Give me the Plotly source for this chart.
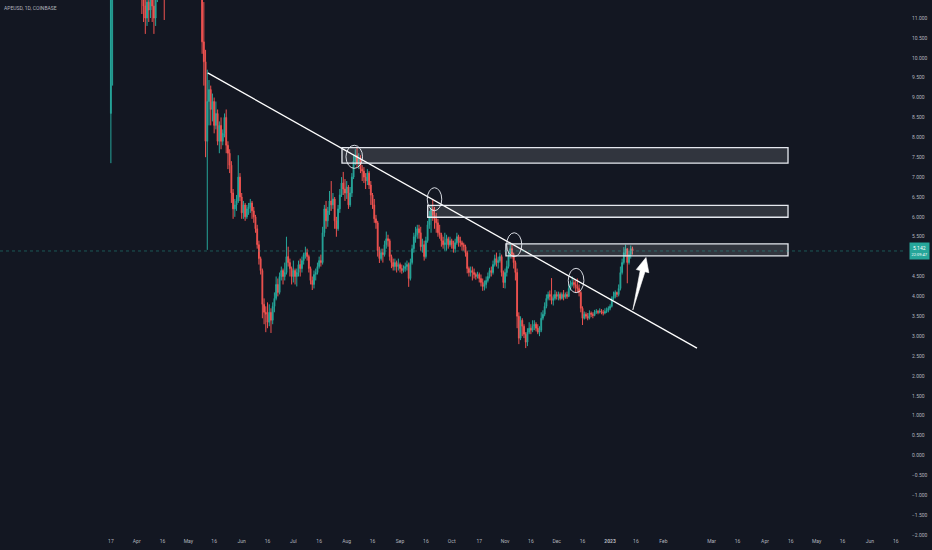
import plotly.graph_objects as go
import pandas as pd

# ---------------- data (daily APEUSD, Coinbase) ----------------
START_DATE = "2022-03-17"
FIRST_OPEN = 8.6

close_mar = [11.8, 13.9, 14.2, 12.9, 12.4, 13.1, 12.6, 12.2, 13.8, 13.3, 14.4, 14.0, 13.6, 13.0, 12.3]
high_mar = [15.0, 14.8, 15.2, 14.4, 13.1, 13.6, 13.4, 12.9, 14.2, 14.0, 14.8, 14.9, 14.3, 13.9, 13.3]
low_mar = [7.35, 9.3, 13.3, 12.2, 11.6, 12.0, 12.1, 11.7, 12.0, 12.8, 13.1, 13.5, 13.1, 12.5, 12.0]

close_apr = [12.6, 12.9, 12.4, 11.6, 11.3, 11.0, 11.4, 11.2, 11.5, 11.3, 11.0, 11.6, 12.0, 11.8, 12.2,
             12.5, 12.0, 13.5, 14.8, 16.5, 17.0, 18.0, 19.5, 20.5, 21.0, 19.5, 21.0, 22.5, 19.0, 17.5]
high_apr = [13.0, 13.3, 13.1, 12.6, 11.9, 11.6, 11.8, 11.7, 11.8, 11.9, 11.6, 11.9, 12.3, 12.3, 12.5,
            12.8, 12.6, 13.8, 15.2, 17.0, 17.8, 18.7, 20.0, 21.5, 22.0, 21.5, 22.0, 26.7, 22.5, 19.5]
low_apr = [12.1, 12.3, 12.0, 11.1, 10.9, 10.6, 10.8, 10.9, 11.0, 10.9, 10.6, 10.8, 11.4, 11.5, 11.6,
           11.9, 10.95, 11.8, 13.2, 14.5, 16.0, 16.5, 17.8, 19.0, 19.5, 18.6, 19.2, 20.5, 18.5, 17.0]

close_may = [17.0, 16.2, 15.4, 16.6, 14.6, 14.3, 13.7, 13.0, 10.4, 9.9, 7.9, 8.9, 9.2, 8.7, 8.9, 8.3,
             8.6, 7.9, 8.3, 7.9, 8.1, 8.5, 7.8, 7.6, 7.3, 6.6, 6.2, 6.3, 6.4, 7.0, 6.5]
high_may = [18.3, 17.4, 16.5, 17.0, 16.8, 14.9, 14.5, 13.9, 13.3, 11.4, 10.2, 9.7, 9.44, 9.3, 9.1, 9.0,
            8.9, 8.7, 8.4, 8.5, 8.2, 8.6, 8.7, 7.9, 7.7, 7.4, 6.7, 6.45, 6.55, 7.55, 7.1]
low_may = [16.3, 15.8, 15.0, 15.0, 14.2, 13.8, 13.4, 12.7, 10.1, 9.3, 7.5, 5.17, 8.3, 8.3, 8.4, 8.1,
           8.2, 7.8, 7.6, 7.7, 7.8, 8.0, 7.6, 7.2, 7.1, 6.35, 5.95, 6.0, 6.15, 6.35, 6.4]

close_jun = [6.1, 6.3, 6.0, 6.2, 6.25, 6.35, 6.15, 6.0, 5.7, 5.3, 4.95, 4.65, 3.8, 3.6, 3.55,
             3.35, 3.6, 3.4, 3.75, 3.95, 4.3, 4.1, 4.5, 4.65, 4.5, 4.6, 5.0, 4.85, 4.7, 4.5]
high_jun = [6.6, 6.4, 6.35, 6.3, 6.35, 6.45, 6.4, 6.25, 6.05, 5.8, 5.4, 5.0, 4.7, 3.95, 3.75,
            3.85, 3.8, 3.7, 3.85, 4.1, 4.5, 4.45, 4.6, 4.75, 4.7, 4.85, 5.5, 5.25, 4.95, 4.75]
low_jun = [5.95, 5.95, 5.9, 5.95, 6.05, 6.1, 5.95, 5.85, 5.6, 5.2, 4.8, 4.55, 3.45, 3.3, 3.1,
           3.2, 3.25, 3.08, 3.3, 3.6, 3.9, 4.0, 4.05, 4.4, 4.3, 4.4, 4.55, 4.75, 4.5, 4.3]

close_jul = [4.65, 4.5, 4.6, 4.8, 4.7, 4.9, 5.05, 5.1, 5.0, 4.7, 4.4, 4.3, 4.55, 4.6, 4.75, 4.9,
             4.85, 5.6, 6.2, 5.9, 6.15, 6.4, 6.3, 6.45, 5.9, 5.7, 6.2, 6.55, 6.85, 6.7, 6.6]
high_jul = [4.9, 4.7, 4.7, 4.9, 4.95, 5.0, 5.1, 5.25, 5.2, 5.05, 4.75, 4.5, 4.65, 4.7, 4.85, 5.0,
            5.05, 5.75, 6.3, 6.4, 6.25, 6.65, 6.9, 6.6, 6.5, 6.0, 6.3, 6.7, 7.0, 7.13, 6.95]
low_jul = [4.35, 4.3, 4.25, 4.5, 4.5, 4.6, 4.8, 4.95, 4.9, 4.6, 4.3, 4.16, 4.2, 4.4, 4.55, 4.7,
           4.75, 4.8, 5.5, 5.7, 5.75, 6.05, 6.15, 6.2, 5.7, 5.5, 5.65, 6.1, 6.5, 6.55, 6.4]

close_aug = [6.75, 6.3, 6.6, 7.0, 7.4, 7.55, 7.35, 7.45, 7.2, 7.15, 7.0, 6.9, 7.1, 6.8, 6.55, 6.3,
             5.95, 5.85, 5.15, 4.95, 5.1, 5.05, 5.3, 5.45, 5.4, 5.0, 4.85, 4.75, 4.85, 4.75, 4.8]
high_aug = [6.9, 6.8, 6.75, 7.1, 7.55, 7.7, 7.73, 7.6, 7.55, 7.3, 7.25, 7.1, 7.2, 7.15, 6.9, 6.6,
            6.45, 6.05, 5.9, 5.25, 5.2, 5.2, 5.4, 5.63, 5.55, 5.45, 5.05, 4.95, 4.95, 4.9, 4.95]
low_aug = [6.45, 6.2, 6.25, 6.5, 6.95, 7.3, 7.25, 7.2, 7.1, 6.9, 6.85, 6.7, 6.8, 6.7, 6.3, 6.2,
           5.85, 5.7, 5.0, 4.84, 4.9, 4.85, 5.0, 5.2, 5.25, 4.9, 4.71, 4.65, 4.65, 4.6, 4.65]

close_sep = [4.7, 4.65, 4.7, 4.75, 4.8, 4.45, 4.85, 5.2, 5.5, 5.55, 5.7, 5.6, 5.25, 5.3, 5.0,
             5.4, 5.8, 6.0, 6.2, 6.05, 5.95, 5.85, 5.6, 5.55, 5.4, 5.3, 5.35, 5.45, 5.3, 5.4]
high_sep = [4.85, 4.8, 4.78, 4.85, 4.9, 4.85, 4.95, 5.3, 5.6, 5.75, 5.8, 5.8, 5.75, 5.45, 5.4,
            5.5, 5.9, 6.15, 6.3, 6.45, 6.25, 6.1, 5.95, 5.8, 5.6, 5.5, 5.6, 5.55, 5.5, 5.5]
low_sep = [4.6, 4.57, 4.6, 4.62, 4.65, 4.24, 4.4, 4.8, 5.1, 5.35, 5.45, 5.45, 5.15, 5.1, 4.9,
           4.95, 5.35, 5.7, 5.6, 5.9, 5.7, 5.6, 5.5, 5.45, 5.25, 5.2, 5.15, 5.15, 5.2, 5.25]

close_oct = [5.3, 5.2, 5.35, 5.5, 5.4, 5.35, 5.3, 5.25, 5.1, 4.7, 4.6, 4.65, 4.6, 4.55, 4.5, 4.55,
             4.45, 4.35, 4.25, 4.3, 4.4, 4.5, 4.65, 4.6, 4.8, 4.95, 4.85, 4.9, 5.0, 4.6, 4.35]
high_oct = [5.45, 5.4, 5.45, 5.6, 5.55, 5.5, 5.4, 5.35, 5.3, 5.15, 4.75, 4.75, 4.75, 4.7, 4.6, 4.62,
            4.6, 4.55, 4.45, 4.4, 4.5, 4.6, 4.72, 4.75, 4.9, 5.05, 5.1, 5.0, 5.1, 5.05, 4.65]
low_oct = [5.2, 5.1, 5.1, 5.3, 5.25, 5.25, 5.15, 5.15, 5.0, 4.58, 4.5, 4.5, 4.4, 4.45, 4.42, 4.45,
           4.35, 4.25, 4.14, 4.15, 4.2, 4.35, 4.45, 4.5, 4.55, 4.75, 4.75, 4.7, 4.85, 4.5, 4.21]

close_nov = [4.6, 4.75, 5.0, 5.2, 5.05, 4.85, 4.6, 3.5, 2.95, 3.4, 3.25, 3.05, 2.85, 3.1, 3.2,
             3.15, 3.25, 3.3, 3.2, 3.1, 3.15, 3.45, 3.55, 3.75, 3.95, 4.05, 4.0, 3.9, 3.95, 4.05]
high_nov = [4.7, 4.9, 5.1, 5.32, 5.3, 5.1, 4.9, 4.7, 3.6, 3.5, 3.45, 3.3, 3.1, 3.2, 3.35,
            3.3, 3.4, 3.4, 3.35, 3.3, 3.25, 3.6, 3.65, 3.85, 4.05, 4.12, 4.15, 4.46, 4.05, 4.16]
low_nov = [4.2, 4.5, 4.7, 4.95, 4.95, 4.7, 4.4, 3.2, 2.8, 2.9, 3.0, 2.95, 2.70, 2.75, 3.05,
           3.05, 3.1, 3.15, 3.12, 3.05, 3.0, 3.1, 3.4, 3.5, 3.7, 3.9, 3.9, 3.8, 3.77, 3.9]

close_dec = [4.0, 4.05, 3.95, 4.05, 3.98, 4.05, 4.0, 4.2, 4.3, 4.35, 4.3, 4.25, 4.2, 4.1, 3.7, 3.45,
             3.55, 3.5, 3.45, 3.58, 3.55, 3.52, 3.6, 3.62, 3.6, 3.63, 3.6, 3.58, 3.62, 3.65, 3.7]
high_dec = [4.12, 4.12, 4.1, 4.1, 4.16, 4.1, 4.12, 4.3, 4.4, 4.5, 4.42, 4.4, 4.45, 4.3, 4.15, 3.75,
            3.62, 3.6, 3.58, 3.65, 3.62, 3.6, 3.66, 3.68, 3.66, 3.7, 3.68, 3.66, 3.7, 3.72, 3.75]
low_dec = [3.92, 3.9, 3.9, 3.92, 3.9, 3.94, 3.94, 3.98, 4.15, 4.25, 4.2, 4.1, 4.1, 4.0, 3.6, 3.28,
           3.42, 3.44, 3.4, 3.42, 3.48, 3.45, 3.5, 3.56, 3.55, 3.57, 3.55, 3.52, 3.55, 3.58, 3.6]

close_jan = [3.75, 3.95, 4.0, 4.1, 4.05, 4.2, 4.6, 4.85, 5.1, 5.2, 4.85, 5.05, 5.2, 5.142]
high_jan = [3.8, 4.0, 4.12, 4.15, 4.12, 4.3, 4.75, 4.95, 5.24, 5.3, 5.2, 5.15, 5.28, 5.25]
low_jan = [3.65, 3.72, 3.9, 3.95, 3.98, 4.0, 4.15, 4.55, 4.8, 5.0, 4.33, 4.8, 4.95, 5.05]

CLOSE = (close_mar + close_apr + close_may + close_jun + close_jul + close_aug +
         close_sep + close_oct + close_nov + close_dec + close_jan)
HIGH = (high_mar + high_apr + high_may + high_jun + high_jul + high_aug +
        high_sep + high_oct + high_nov + high_dec + high_jan)
LOW = (low_mar + low_apr + low_may + low_jun + low_jul + low_aug +
       low_sep + low_oct + low_nov + low_dec + low_jan)
OPEN = [FIRST_OPEN] + CLOSE[:-1]
DATES = pd.date_range(START_DATE, periods=len(CLOSE), freq="D")
LAST_PRICE = 5.142
LAST_LABEL = "5.142"
COUNTDOWN = "22:09:47"

# drawings (chart coordinates: date, price)
TREND_X = ["2022-05-12 06:00", "2023-02-20 12:00"]
TREND_Y = [9.62, 2.70]

ZONES = [  # x0, x1, y_low, y_high
    ("2022-07-29 06:00", "2023-04-14 09:00", 7.35, 7.74),
    ("2022-09-17 01:00", "2023-04-14 09:00", 5.99, 6.29),
    ("2022-11-01 12:00", "2023-04-14 09:00", 5.02, 5.32),
]
RINGS = [  # x0, x1, y0, y1
    ("2022-07-31 14:00", "2022-08-10 05:00", 7.22, 7.80),
    ("2022-09-16 19:00", "2022-09-25 05:00", 6.155, 6.733),
    ("2022-11-01 22:00", "2022-11-10 17:00", 5.00, 5.60),
    ("2022-12-07 17:00", "2022-12-16 19:00", 4.093, 4.706),
]
ARROW_X = ["2023-01-14 05:00", "2023-01-21 07:00", "2023-01-23 13:00", "2023-01-21 21:00",
           "2023-01-16 05:30", "2023-01-18 12:00", "2023-01-14 05:00"]
ARROW_Y = [3.658, 4.621, 4.596, 4.978, 4.676, 4.651, 3.658]

X_RANGE = ["2022-01-11 14:00", "2023-06-21 22:00"]
Y_RANGE = [-2.05, 11.4526]

X_TICKS = ["2022-03-17", "2022-04-01", "2022-04-16", "2022-05-01", "2022-05-16", "2022-06-01",
           "2022-06-16", "2022-07-01", "2022-07-16", "2022-08-01", "2022-08-16", "2022-09-01",
           "2022-09-16", "2022-10-01", "2022-10-17", "2022-11-01", "2022-11-16", "2022-12-01",
           "2022-12-16", "2023-01-01", "2023-01-16", "2023-02-01", "2023-03-01", "2023-03-16",
           "2023-04-01", "2023-04-16", "2023-05-01", "2023-05-16", "2023-06-01", "2023-06-16"]
X_LABELS = ["17", "Apr", "16", "May", "16", "Jun", "16", "Jul", "16", "Aug", "16", "Sep",
            "16", "Oct", "17", "Nov", "16", "Dec", "16", "<b>2023</b>", "16", "Feb", "Mar", "16",
            "Apr", "16", "May", "16", "Jun", "16"]
Y_TICKS = [11.0, 10.5, 10.0, 9.5, 9.0, 8.5, 8.0, 7.5, 7.0, 6.5, 6.0, 5.5, 4.5, 4.0, 3.5, 3.0,
           2.5, 2.0, 1.5, 1.0, 0.5, 0.0, -0.5, -1.0, -1.5, -2.0]

# ---------------- style ----------------
BG = "#131722"
UP = "#26a69a"
DOWN = "#ef5350"
TXT = "#b2b5be"
FONT = "Roboto"

fig = go.Figure()
fig.add_trace(go.Candlestick(
    x=DATES, open=OPEN, high=HIGH, low=LOW, close=CLOSE,
    increasing=dict(line=dict(color=UP, width=1), fillcolor=UP),
    decreasing=dict(line=dict(color=DOWN, width=1), fillcolor=DOWN),
    whiskerwidth=0, showlegend=False, hoverinfo="skip"))

fig.add_trace(go.Scatter(x=TREND_X, y=TREND_Y, mode="lines",
                         line=dict(color="#ffffff", width=1.3), showlegend=False, hoverinfo="skip"))

for x0, x1, y0, y1 in ZONES:
    fig.add_shape(type="rect", xref="x", yref="y", x0=x0, x1=x1, y0=y0, y1=y1,
                  fillcolor="rgba(255,255,255,0.13)", line=dict(color="rgba(240,243,250,0.95)", width=1.3))

for x0, x1, y0, y1 in RINGS:
    fig.add_shape(type="circle", xref="x", yref="y", x0=x0, x1=x1, y0=y0, y1=y1,
                  fillcolor="rgba(0,0,0,0)", line=dict(color="rgba(235,238,245,0.9)", width=1))

fig.add_trace(go.Scatter(x=ARROW_X, y=ARROW_Y, mode="lines", fill="toself",
                         fillcolor="#ffffff", line=dict(color="#ffffff", width=0.6),
                         showlegend=False, hoverinfo="skip"))

fig.add_shape(type="line", xref="paper", yref="y", x0=0, x1=1, y0=LAST_PRICE, y1=LAST_PRICE,
              line=dict(color="rgba(38,166,154,0.45)", width=1, dash="dot"))

fig.add_annotation(xref="paper", yref="y", x=1, y=LAST_PRICE, xanchor="left", yanchor="middle",
                   xshift=3, text=LAST_LABEL + "<br><span style='font-size:4px'>" + COUNTDOWN + "</span>",
                   showarrow=False, bgcolor=UP, borderpad=1.5, align="center",
                   font=dict(family=FONT, size=5, color="#ffffff"))

fig.add_annotation(xref="paper", yref="paper", x=0, y=1, xanchor="left", yanchor="top",
                   xshift=2, yshift=-3, text="APEUSD, 1D, COINBASE", showarrow=False,
                   font=dict(family=FONT, size=5, color=TXT))

fig.update_layout(
    width=932, height=550,
    margin=dict(l=0, r=26, t=0, b=13),
    paper_bgcolor=BG, plot_bgcolor=BG,
    font=dict(family=FONT, size=5, color=TXT),
    showlegend=False,
    xaxis=dict(type="date", range=X_RANGE, tickvals=X_TICKS, ticktext=X_LABELS,
               showgrid=False, zeroline=False, showline=False, ticks="",
               rangeslider=dict(visible=False), tickfont=dict(family=FONT, size=5, color=TXT),
               fixedrange=True),
    yaxis=dict(side="right", range=Y_RANGE, tickvals=Y_TICKS,
               ticktext=[("\u2212" if v < 0 else "") + f"{abs(v):.3f}" for v in Y_TICKS],
               showgrid=False, zeroline=False, showline=False, ticks="",
               ticklabelstandoff=5, tickfont=dict(family=FONT, size=5, color=TXT),
               fixedrange=True),
)

fig.write_html("out.html", config={"displayModeBar": False, "staticPlot": True})

# remove the browser's default page margin so the 932x550 figure fills the window exactly
with open("out.html", "r", encoding="utf-8") as fh:
    html = fh.read()
html = html.replace("<head>", "<head><style>html,body{margin:0;padding:0;overflow:hidden;"
                    "background:#131722;}</style>", 1)
with open("out.html", "w", encoding="utf-8") as fh:
    fh.write(html)
